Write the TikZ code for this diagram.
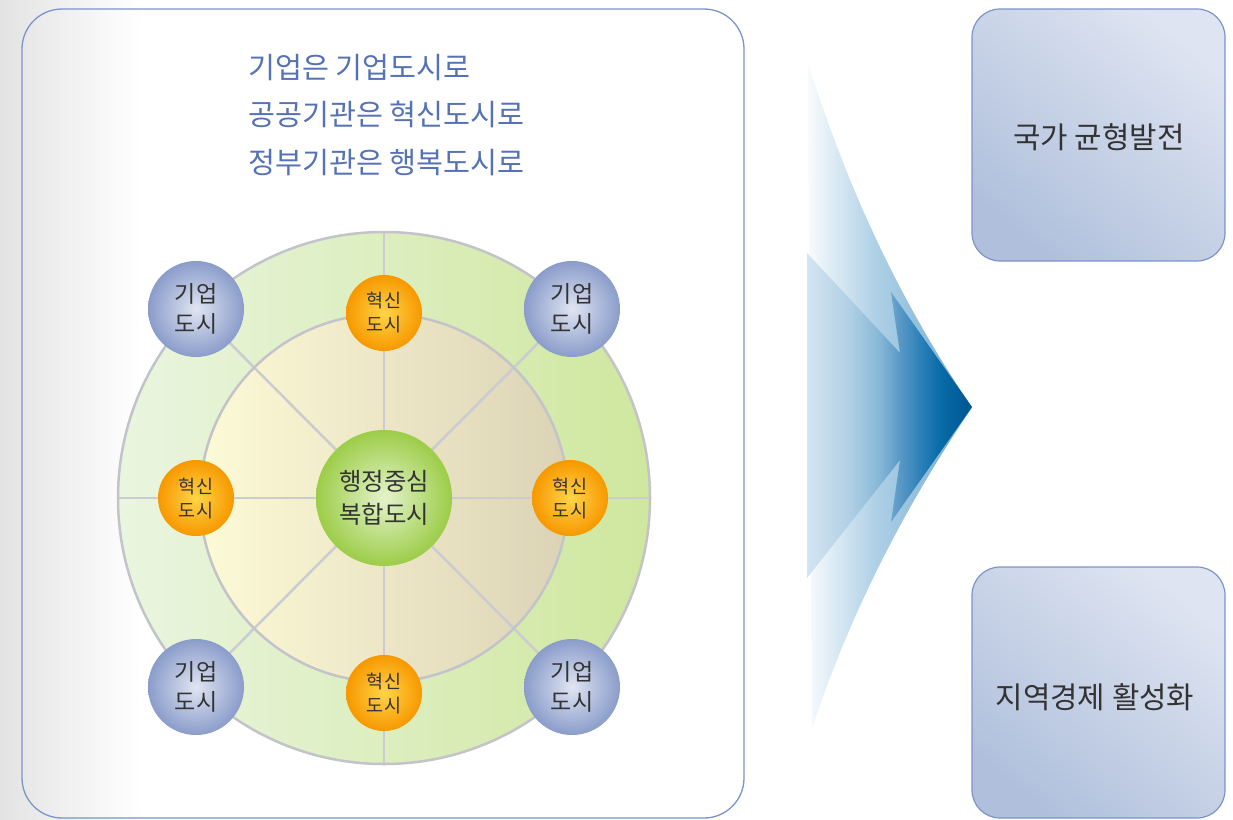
\documentclass[tikz,border=0pt]{standalone}
\usepackage{fontspec}
\newfontfamily\kr{Noto Sans CJK KR}
\usetikzlibrary{fadings,calc}
\definecolor{titleblue}{HTML}{5572B6}
\definecolor{boxline}{HTML}{7C94C8}
\definecolor{txt}{HTML}{333333}
\definecolor{spokec}{HTML}{CBCBD2}
\definecolor{ringL}{HTML}{EAF5E0}
\definecolor{ringR}{HTML}{CFE79E}
\definecolor{diskL}{HTML}{FDFAD6}
\definecolor{diskR}{HTML}{DCD3B6}
\definecolor{bc1}{HTML}{E0E5F2}
\definecolor{bc2}{HTML}{8A9CCA}
\definecolor{oc1}{HTML}{FFD548}
\definecolor{oc2}{HTML}{F79800}
\definecolor{gc1}{HTML}{E4F3CC}
\definecolor{gc2}{HTML}{9CCD48}
\definecolor{rb1}{HTML}{DEE4F1}
\definecolor{rb2}{HTML}{B0C0DC}
\definecolor{ia0}{HTML}{D4E5F1}
\definecolor{ia1}{HTML}{B0CFE4}
\definecolor{ia2}{HTML}{86B7D7}
\definecolor{ia3}{HTML}{5A99C6}
\definecolor{ia4}{HTML}{2F81B9}
\definecolor{ia5}{HTML}{0A6CA8}
\definecolor{ia6}{HTML}{005E9B}
\definecolor{ia7}{HTML}{005592}
\definecolor{ch0}{HTML}{F8FBFD}
\definecolor{ch1}{HTML}{B0D1E6}
\definecolor{ch2}{HTML}{6EA9D2}
\pgfdeclarehorizontalshading{innerarrow}{100bp}{color(0bp)=(ia0); color(25bp)=(ia0); color(38bp)=(ia1); color(47bp)=(ia2); color(53bp)=(ia3); color(59bp)=(ia4); color(65bp)=(ia5); color(71bp)=(ia6); color(75bp)=(ia7); color(100bp)=(ia7)}
\pgfdeclarehorizontalshading{outerch}{100bp}{color(0bp)=(ch0); color(25bp)=(ch0); color(45bp)=(ch1); color(75bp)=(ch2); color(100bp)=(ch2)}
\pgfdeclareverticalshading{vfsh}{100bp}{color(0bp)=(black); color(22bp)=(white); color(78bp)=(white); color(100bp)=(black)}
\pgfdeclarefading{vfade}{\pgfuseshading{vfsh}}
\tikzset{
  spoke/.style={draw=spokec, line width=2.5pt},
  ringline/.style={draw=spokec!90!gray, line width=2.5pt},
  bluec/.style={circle, inner sep=0pt, minimum size=96pt, inner color=bc1, outer color=bc2, align=center, text=txt, font=\kr\fontsize{23}{30}\selectfont},
  orangec/.style={circle, inner sep=0pt, minimum size=76pt, inner color=oc1, outer color=oc2, align=center, text=txt, font=\kr\fontsize{18.5}{24}\selectfont},
  greenc/.style={circle, inner sep=0pt, minimum size=136pt, inner color=gc1, outer color=gc2, align=center, text=txt, font=\kr\fontsize{24.4}{33}\selectfont},
  rbox/.style={rounded corners=28pt, draw=boxline, line width=1.2pt, shading=axis, top color=rb1, bottom color=rb2, shading angle=-40},
  boxtext/.style={text=txt, font=\kr\fontsize{29.8}{34}\selectfont}
}
\begin{document}
\begin{tikzpicture}[x=1pt, y=-1pt]
\useasboundingbox (0,0) rectangle (1233,819);
\fill[white] (0,0) rectangle (1233,819);
% left gray gradient
\shade[left color=black!11, right color=white] (0,0) rectangle (140,819);
% left panel
\draw[boxline, line width=1.3pt, rounded corners=40pt] (22,9) rectangle (744,818);
\node[anchor=west, align=left, text=titleblue, font=\kr\fontsize{29.3}{47.5}\selectfont] (title) at (245,115) {기업은 기업도시로\\공공기관은 혁신도시로\\정부기관은 행복도시로};
% rings
\coordinate (C) at (384,498);
\shade[left color=ringL, right color=ringR] (C) circle[radius=266];
\shade[left color=diskL, right color=diskR] (C) circle[radius=184];
\coordinate (N) at ($(C)+(0,-266)$);
\coordinate (S) at ($(C)+(0,266)$);
\coordinate (W) at ($(C)+(-266,0)$);
\coordinate (E) at ($(C)+(266,0)$);
\coordinate (NW) at ($(C)+(-188,-189)$);
\coordinate (NE) at ($(C)+(188,-189)$);
\coordinate (SW) at ($(C)+(-188,189)$);
\coordinate (SE) at ($(C)+(188,189)$);
\draw[spoke] (N) -- (S);
\draw[spoke] (W) -- (E);
\draw[spoke] (NW) -- (SE);
\draw[spoke] (NE) -- (SW);
\draw[ringline] (C) circle[radius=266];
\draw[ringline] (C) circle[radius=184];
% nodes
\node[greenc] (center) at (C) {행정중심\\복합도시};
\node[orangec] (oN) at ($(C)+(0,-185)$) {혁신\\도시};
\node[orangec] (oS) at ($(C)+(0,195)$) {혁신\\도시};
\node[orangec] (oW) at ($(C)+(-188,0)$) {혁신\\도시};
\node[orangec] (oE) at ($(C)+(186,0)$) {혁신\\도시};
\node[bluec] (bNW) at (NW) {기업\\도시};
\node[bluec] (bNE) at (NE) {기업\\도시};
\node[bluec] (bSW) at (SW) {기업\\도시};
\node[bluec] (bSE) at (SE) {기업\\도시};
% chevron arrow
\path[shading=outerch, path fading=vfade] (808,62) .. controls (848,191) and (903,306) .. (972,407) .. controls (903,509) and (849,616) .. (812,728) -- cycle;
\path[shading=innerarrow] (807,253) -- (900,353) -- (891,292) -- (972,407) -- (891,522) -- (900,460) -- (807,578) -- cycle;
% right boxes
\path[rbox] (972,9) rectangle (1225,261);
\node[boxtext] (r1) at (1099,137) {국가 균형발전};
\path[rbox] (972,567) rectangle (1225,818);
\node[boxtext] (r2) at (1095,697) {지역경제 활성화};
\end{tikzpicture}
\end{document}
